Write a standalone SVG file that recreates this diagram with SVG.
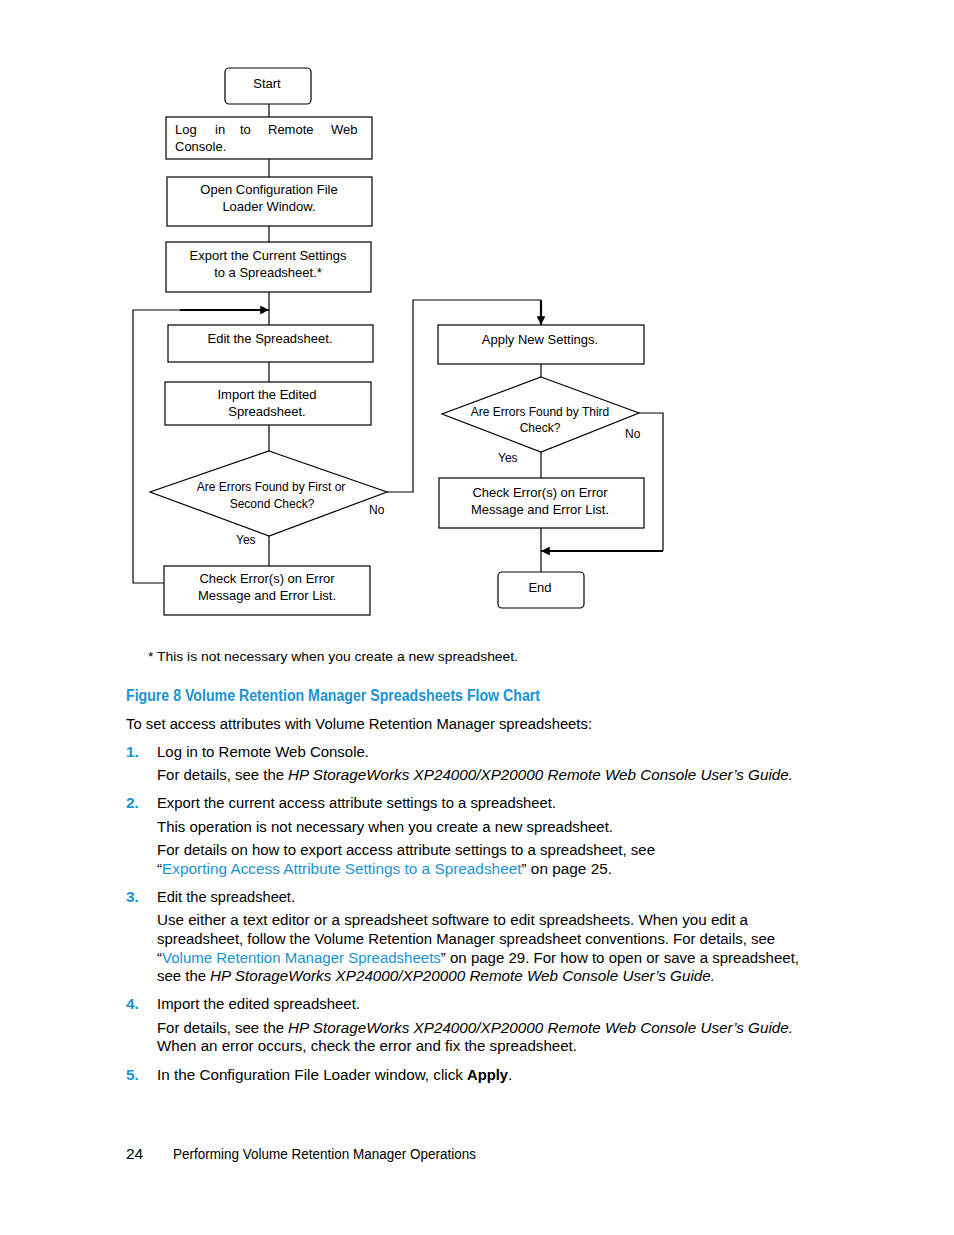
<svg xmlns="http://www.w3.org/2000/svg" width="954" height="1235" viewBox="0 0 954 1235">
<style>
.box{fill:#fff;stroke:#000;stroke-width:1.2}
.ln{fill:none;stroke:#000;stroke-width:1.2}
.thk{fill:none;stroke:#000;stroke-width:2.2}
.fc{font-family:"Liberation Sans",Arial,sans-serif;font-size:13px;fill:#000}
.fcs{font-family:"Liberation Sans",Arial,sans-serif;font-size:12px;fill:#000}
.mid{text-anchor:middle}
.body{font-family:"Liberation Sans",Arial,sans-serif;font-size:15.5px;fill:#000}
.it{font-style:italic}
.blue{fill:#1a93d4}
.num{font-family:"Liberation Sans",Arial,sans-serif;font-size:15.5px;font-weight:bold;fill:#1a93d4}
.cap{font-family:"Liberation Sans",Arial,sans-serif;font-size:16px;font-weight:bold;fill:#1a93d4}
</style>
<defs>
<marker id="ah" viewBox="0 0 10 10" refX="10" refY="5" markerWidth="4" markerHeight="4" orient="auto" markerUnits="strokeWidth">
<path d="M0,0 L10,5 L0,10 z" fill="#000"/>
</marker>
</defs>
<rect width="954" height="1235" fill="#fff"/>

<g id="connectors">
<line class="ln" x1="269" y1="104" x2="269" y2="117"/>
<line class="ln" x1="269" y1="159" x2="269" y2="177"/>
<line class="ln" x1="269" y1="226" x2="269" y2="242"/>
<line class="ln" x1="269" y1="292" x2="269" y2="325"/>
<line class="ln" x1="269" y1="362" x2="269" y2="382"/>
<line class="ln" x1="269" y1="425" x2="269" y2="451"/>
<line class="ln" x1="269" y1="536" x2="269" y2="566"/>
<polyline class="ln" points="164,583 133,583 133,310 180,310"/>
<line class="thk" x1="180" y1="310" x2="269" y2="310" marker-end="url(#ah)"/>
<polyline class="ln" points="387,492 413,492 413,300 541,300"/>
<line class="thk" x1="541" y1="300" x2="541" y2="325" marker-end="url(#ah)"/>
<line class="ln" x1="541" y1="364" x2="541" y2="377"/>
<line class="ln" x1="541" y1="452" x2="541" y2="478"/>
<line class="ln" x1="541" y1="528" x2="541" y2="572"/>
<polyline class="ln" points="639,413 663,413 663,551"/>
<polyline class="thk" points="663,551 541,551" marker-end="url(#ah)"/>
</g>

<g id="start">
<rect class="box" x="225" y="68" width="86" height="36" rx="4"/>
<text class="fc mid" x="267" y="88">Start</text>
</g>
<g id="login">
<rect class="box" x="166" y="117" width="206" height="42"/>
<text class="fc" y="134"><tspan x="175">Log</tspan><tspan x="215">in</tspan><tspan x="240">to</tspan><tspan x="268">Remote</tspan><tspan x="331">Web</tspan></text>
<text class="fc" x="175" y="151">Console.</text>
</g>
<g id="openconfig">
<rect class="box" x="167" y="177" width="205" height="49"/>
<text class="fc mid" x="269" y="194">Open Configuration File</text>
<text class="fc mid" x="269" y="211">Loader Window.</text>
</g>
<g id="export">
<rect class="box" x="166" y="242" width="205" height="50"/>
<text class="fc mid" x="268" y="260">Export the Current Settings</text>
<text class="fc mid" x="268" y="277">to a Spreadsheet.*</text>
</g>
<g id="edit">
<rect class="box" x="168" y="325" width="205" height="37"/>
<text class="fc mid" x="270" y="343">Edit the Spreadsheet.</text>
</g>
<g id="import">
<rect class="box" x="165" y="382" width="206" height="43"/>
<text class="fc mid" x="267" y="399">Import the Edited</text>
<text class="fc mid" x="267" y="416">Spreadsheet.</text>
</g>
<g id="decision1">
<polygon class="box" points="269,451 387,492 269,536 150,492"/>
<text class="fcs mid" x="271" y="491">Are Errors Found by First or</text>
<text class="fcs mid" x="272" y="508">Second Check?</text>
<text class="fcs" x="369" y="514">No</text>
<text class="fcs" x="236" y="544">Yes</text>
</g>
<g id="check1">
<rect class="box" x="164" y="566" width="206" height="49"/>
<text class="fc mid" x="267" y="583">Check Error(s) on Error</text>
<text class="fc mid" x="267" y="600">Message and Error List.</text>
</g>
<g id="apply">
<rect class="box" x="438" y="325" width="206" height="39"/>
<text class="fc mid" x="540" y="344">Apply New Settings.</text>
</g>
<g id="decision2">
<polygon class="box" points="541,377 639,413 541,452 442,414"/>
<text class="fcs mid" x="540" y="416">Are Errors Found by Third</text>
<text class="fcs mid" x="540" y="432">Check?</text>
<text class="fcs" x="625" y="438">No</text>
<text class="fcs" x="498" y="462">Yes</text>
</g>
<g id="check2">
<rect class="box" x="439" y="478" width="205" height="50"/>
<text class="fc mid" x="540" y="497">Check Error(s) on Error</text>
<text class="fc mid" x="540" y="514">Message and Error List.</text>
</g>
<g id="end">
<rect class="box" x="498" y="572" width="86" height="36" rx="4"/>
<text class="fc mid" x="540" y="592">End</text>
</g>

<text class="fc" x="148" y="661" textLength="370" lengthAdjust="spacingAndGlyphs">* This is not necessary when you create a new spreadsheet.</text>

<text class="cap" x="126" y="701" textLength="414" lengthAdjust="spacingAndGlyphs">Figure 8 Volume Retention Manager Spreadsheets Flow Chart</text>
<text class="body" x="126" y="729" textLength="466" lengthAdjust="spacingAndGlyphs">To set access attributes with Volume Retention Manager spreadsheets:</text>

<text class="num" x="126" y="757">1.</text>
<text class="body" x="157" y="757" textLength="212" lengthAdjust="spacingAndGlyphs">Log in to Remote Web Console.</text>
<text class="body" x="157" y="780" textLength="127" lengthAdjust="spacingAndGlyphs">For details, see the</text>
<text class="body it" x="288" y="780" textLength="505" lengthAdjust="spacingAndGlyphs">HP StorageWorks XP24000/XP20000 Remote Web Console User’s Guide.</text>

<text class="num" x="126" y="808">2.</text>
<text class="body" x="157" y="808" textLength="399" lengthAdjust="spacingAndGlyphs">Export the current access attribute settings to a spreadsheet.</text>
<text class="body" x="157" y="832" textLength="456" lengthAdjust="spacingAndGlyphs">This operation is not necessary when you create a new spreadsheet.</text>
<text class="body" x="157" y="855" textLength="498" lengthAdjust="spacingAndGlyphs">For details on how to export access attribute settings to a spreadsheet, see</text>
<text class="body" x="157" y="874" textLength="455" lengthAdjust="spacingAndGlyphs">“<tspan class="blue">Exporting Access Attribute Settings to a Spreadsheet</tspan>” on page 25.</text>

<text class="num" x="126" y="902">3.</text>
<text class="body" x="157" y="902" textLength="138" lengthAdjust="spacingAndGlyphs">Edit the spreadsheet.</text>
<text class="body" x="157" y="925" textLength="591" lengthAdjust="spacingAndGlyphs">Use either a text editor or a spreadsheet software to edit spreadsheets. When you edit a</text>
<text class="body" x="157" y="944" textLength="618" lengthAdjust="spacingAndGlyphs">spreadsheet, follow the Volume Retention Manager spreadsheet conventions. For details, see</text>
<text class="body" x="157" y="963" textLength="642" lengthAdjust="spacingAndGlyphs">“<tspan class="blue">Volume Retention Manager Spreadsheets</tspan>” on page 29. For how to open or save a spreadsheet,</text>
<text class="body" x="157" y="981" textLength="49" lengthAdjust="spacingAndGlyphs">see the</text>
<text class="body it" x="210" y="981" textLength="505" lengthAdjust="spacingAndGlyphs">HP StorageWorks XP24000/XP20000 Remote Web Console User’s Guide.</text>

<text class="num" x="126" y="1009">4.</text>
<text class="body" x="157" y="1009" textLength="203" lengthAdjust="spacingAndGlyphs">Import the edited spreadsheet.</text>
<text class="body" x="157" y="1033" textLength="127" lengthAdjust="spacingAndGlyphs">For details, see the</text>
<text class="body it" x="288" y="1033" textLength="505" lengthAdjust="spacingAndGlyphs">HP StorageWorks XP24000/XP20000 Remote Web Console User’s Guide.</text>
<text class="body" x="157" y="1051" textLength="420" lengthAdjust="spacingAndGlyphs">When an error occurs, check the error and fix the spreadsheet.</text>

<text class="num" x="126" y="1080">5.</text>
<text class="body" x="157" y="1080" textLength="306" lengthAdjust="spacingAndGlyphs">In the Configuration File Loader window, click</text>
<text class="body" x="467" y="1080" font-weight="bold" textLength="41" lengthAdjust="spacingAndGlyphs">Apply</text>
<text class="body" x="508" y="1080">.</text>

<text class="body" x="126" y="1159" font-size="14">24</text>
<text class="body" x="173" y="1159" font-size="14" textLength="303" lengthAdjust="spacingAndGlyphs">Performing Volume Retention Manager Operations</text>
</svg>
